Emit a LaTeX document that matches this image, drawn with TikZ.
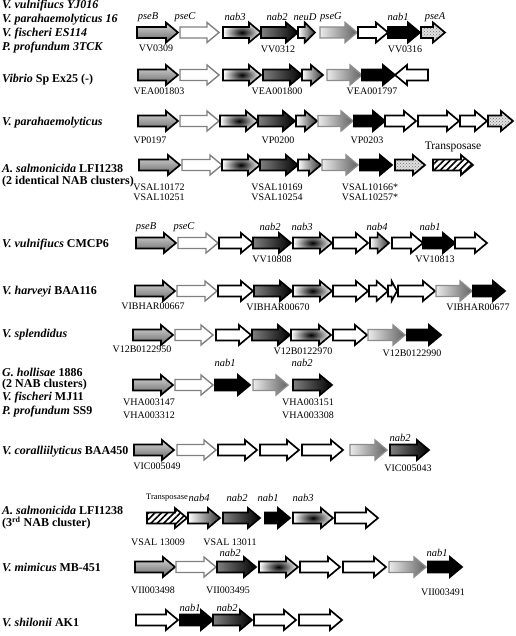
\documentclass[tikz,border=0pt]{standalone}
\usepackage{fontspec}
\setmainfont{Liberation Serif}
\usetikzlibrary{patterns,patterns.meta}
\tikzset{
 gbase/.style={line width=1.7pt, line join=miter},
 gB/.style={gbase, draw=black, top color=black!15, bottom color=black!60},
 gC/.style={gbase, line width=1.4pt, draw=black!50, fill=white},
 gW/.style={gbase, draw=black, fill=white},
 gK/.style={gbase, draw=black, fill=black},
 gNt/.style={gbase, draw=black, inner color=black, outer color=white},
 gNb/.style={gbase, draw=black, left color=black!50, right color=black},
 gD/.style={gbase, draw=black, left color=white, right color=black!80},
 gG/.style={gbase, line width=1.4pt, draw=black!45, left color=black!8, right color=black!62},
 gP/.style={gbase, draw=black, preaction={fill=black!12}, pattern=crosshatch dots, pattern color=black!55},
 gH/.style={gbase, draw=black, pattern={Lines[angle=45,distance=4.5pt,line width=1.6pt]}},
 gl/.style={font=\fontsize{10.5}{11}\selectfont\itshape, inner sep=0pt},
 lc/.style={font=\fontsize{10}{11}\selectfont, inner sep=0pt},
 sp/.style={font=\fontsize{12}{14}\selectfont\bfseries, anchor=west, inner sep=0pt},
}
\newcommand\gn[4]{%
 \pgfmathsetmacro\gnh{min(12,0.6*(#3-#2))}%
 \path[#1] (#2,#4-5.5) -- (#3-\gnh,#4-5.5) -- (#3-\gnh,#4-10) -- (#3,#4) -- (#3-\gnh,#4+10) -- (#3-\gnh,#4+5.5) -- (#2,#4+5.5) -- cycle;}
\newcommand\gnl[4]{%
 \pgfmathsetmacro\gnh{min(12,0.6*(#3-#2))}%
 \path[#1] (#3,#4-5.5) -- (#2+\gnh,#4-5.5) -- (#2+\gnh,#4-10) -- (#2,#4) -- (#2+\gnh,#4+10) -- (#2+\gnh,#4+5.5) -- (#3,#4+5.5) -- cycle;}
\begin{document}
\begin{tikzpicture}[x=1pt,y=-1pt]
\useasboundingbox (0,0) rectangle (515,636);
\fill[white] (0,0) rectangle (515,636);
% ---------- Row 1
\node[sp] (s1a) at (2,6) {\itshape V. vulnifiucs YJ016};
\node[sp] (s1b) at (2,20) {\itshape V. parahaemolyticus 16};
\node[sp] (s1c) at (2,34) {\itshape V. fischeri ES114};
\node[sp] (s1d) at (2,48) {\itshape P. profundum 3TCK};
\gn{gB}{137}{178}{32.5}
\gn{gC}{180}{219}{32.5}
\gn{gNt}{223}{261}{32.5}
\gn{gNb}{261}{298}{32.5}
\gn{gD}{298}{315}{32.5}
\gn{gG}{320}{357}{32.5}
\gn{gW}{358}{388}{32.5}
\gn{gK}{388}{420}{32.5}
\gn{gP}{421}{445}{32.5}
\node[gl] (g1a) at (148,17) {pseB};
\node[gl] (g1b) at (185,17) {pseC};
\node[gl] (g1c) at (235,17) {nab3};
\node[gl] (g1d) at (277,17) {nab2};
\node[gl] (g1e) at (305,17) {neuD};
\node[gl] (g1f) at (331,17) {pseG};
\node[gl] (g1g) at (398,17) {nab1};
\node[gl] (g1h) at (435,17) {pseA};
\node[lc] (l1a) at (156,48) {VV0309};
\node[lc] (l1b) at (278,49) {VV0312};
\node[lc] (l1c) at (405,49) {VV0316};
% ---------- Row 2
\node[sp] (s2) at (2,80) {\itshape Vibrio\upshape{} Sp Ex25 (-)};
\gn{gB}{138}{178}{75}
\gn{gC}{180}{219}{75}
\gn{gNt}{223}{261}{75}
\gn{gNb}{263}{302}{75}
\gn{gD}{302}{323}{75}
\gn{gG}{327}{362}{75}
\gn{gK}{362}{395}{75}
\gnl{gW}{395}{428}{75}
\node[lc] (l2a) at (159,91) {VEA001803};
\node[lc] (l2b) at (277,91) {VEA001800};
\node[lc] (l2c) at (372,91) {VEA001797};
% ---------- Row 3
\node[sp] (s3) at (2,123) {\itshape V. parahaemolyticus};
\gn{gB}{138}{178}{121}
\gn{gC}{180}{219}{121}
\gn{gNt}{220}{258}{121}
\gn{gNb}{258}{295}{121}
\gn{gD}{296}{317}{121}
\gn{gG}{318}{353}{121}
\gn{gK}{354}{385}{121}
\gn{gW}{385}{416}{121}
\gn{gW}{418}{459}{121}
\gn{gW}{460}{487}{121}
\gn{gP}{488}{513}{121}
\node[lc] (l3a) at (150,140) {VP0197};
\node[lc] (l3b) at (278,140) {VP0200};
\node[lc] (l3c) at (367,140) {VP0203};
% ---------- Row 4
\node[sp] (s4a) at (2,168) {\itshape A. salmonicida\upshape{} LFI1238};
\node[sp] (s4b) at (2,182) {(2 identical NAB clusters)};
\gn{gB}{139}{180}{165}
\gn{gC}{182}{222}{165}
\gn{gNt}{222}{260}{165}
\gn{gNb}{260}{298}{165}
\gn{gD}{298}{321}{165}
\gn{gG}{322}{358}{165}
\gn{gK}{360}{392}{165}
\gn{gP}{395}{425}{165}
\gn{gH}{433}{473}{165}
\node[lc, font=\fontsize{11.5}{12}\selectfont] (t4) at (453,147) {Transposase};
\node[lc] (l4a) at (159,187) {VSAL10172};
\node[lc] (l4b) at (159,197) {VSAL10251};
\node[lc] (l4c) at (277,187) {VSAL10169};
\node[lc] (l4d) at (277,197) {VSAL10254};
\node[lc] (l4e) at (370,187) {VSAL10166*};
\node[lc] (l4f) at (370,197) {VSAL10257*};
% ---------- Row 5
\node[sp] (s5) at (2,245) {\itshape V. vulnifiucs\upshape{} CMCP6};
\gn{gB}{136}{176}{243}
\gn{gC}{178}{218}{243}
\gn{gW}{219}{253}{243}
\gn{gNb}{253}{291}{243}
\gn{gNt}{293}{332}{243}
\gn{gW}{333}{368}{243}
\gn{gD}{370}{389}{243}
\gn{gW}{392}{423}{243}
\gn{gK}{423}{455}{243}
\gn{gW}{455}{487}{243}
\node[gl] (g5a) at (146,227) {pseB};
\node[gl] (g5b) at (184,227) {pseC};
\node[gl] (g5c) at (270,227) {nab2};
\node[gl] (g5d) at (302,227) {nab3};
\node[gl] (g5e) at (377,227) {nab4};
\node[gl] (g5f) at (430,227) {nab1};
\node[lc] (l5a) at (272,259) {VV10808};
\node[lc] (l5b) at (435,259) {VV10813};
% ---------- Row 6
\node[sp] (s6) at (2,292) {\itshape V. harveyi\upshape{} BAA116};
\gn{gB}{135}{175}{291}
\gn{gC}{177}{217}{291}
\gn{gW}{218}{253}{291}
\gn{gNb}{254}{292}{291}
\gn{gNt}{293}{332}{291}
\gn{gW}{333}{368}{291}
\gn{gW}{369}{388}{291}
\gn{gW}{388}{397}{291}
\gn{gW}{398}{435}{291}
\gn{gG}{436}{472}{291}
\gn{gK}{473}{505}{291}
\node[lc] (l6a) at (153,306) {VIBHAR00667};
\node[lc] (l6b) at (278,307) {VIBHAR00670};
\node[lc] (l6c) at (478,307) {VIBHAR00677};
% ---------- Row 7
\node[sp] (s7) at (2,335) {\itshape V. splendidus};
\gn{gB}{133}{173}{335}
\gn{gC}{175}{213}{335}
\gn{gW}{216}{251}{335}
\gn{gNb}{252}{290}{335}
\gn{gNt}{291}{331}{335}
\gn{gW}{333}{367}{335}
\gn{gG}{368}{405}{335}
\gn{gK}{407}{441}{335}
\node[lc] (l7a) at (142,349) {V12B0122950};
\node[lc] (l7b) at (303,351) {V12B0122970};
\node[lc] (l7c) at (412,353) {V12B0122990};
% ---------- Row 8
\node[sp] (s8a) at (2,372) {\itshape G. hollisae\upshape{} 1886};
\node[sp] (s8b) at (2,385) {(2 NAB clusters)};
\node[sp] (s8c) at (2,398) {\itshape V. fischeri\upshape{} MJ11};
\node[sp] (s8d) at (2,412) {\itshape P. profundum\upshape{} SS9};
\gn{gB}{133}{173}{385}
\gn{gC}{175}{213}{385}
\gn{gK}{215}{250}{385}
\gn{gG}{253}{288}{385}
\gn{gNb}{293}{332}{385}
\node[gl] (g8a) at (225,363) {nab1};
\node[gl] (g8b) at (302,363) {nab2};
\node[lc] (l8a) at (149,402) {VHA003147};
\node[lc] (l8b) at (149,415) {VHA003312};
\node[lc] (l8c) at (308,402) {VHA003151};
\node[lc] (l8d) at (308,415) {VHA003308};
% ---------- Row 9
\node[sp] (s9) at (2,452) {\itshape V. coralliilyticus\upshape{} BAA450};
\gn{gB}{134}{174}{450}
\gn{gC}{177}{216}{450}
\gn{gW}{218}{257}{450}
\gn{gW}{260}{299}{450}
\gn{gW}{302}{343}{450}
\gn{gG}{350}{387}{450}
\gn{gNb}{390}{429}{450}
\node[gl] (g9a) at (400,438) {nab2};
\node[lc] (l9a) at (157,466) {VIC005049};
\node[lc] (l9b) at (408,468) {VIC005043};
% ---------- Row 10
\node[sp] (s10a) at (2,510) {\itshape A. salmonicida\upshape{} LFI1238};
\node[sp] (s10b) at (2,523) {(3\textsuperscript{rd} NAB cluster)};
\gn{gH}{147}{187}{518}
\gn{gD}{188}{220}{518}
\gn{gNb}{223}{260}{518}
\gn{gK}{265}{290}{518}
\gn{gNt}{293}{333}{518}
\gn{gW}{335}{378}{518}
\node[lc, font=\fontsize{8.5}{10}\selectfont] (t10) at (167,498) {Transposase};
\node[gl] (g10a) at (199,498) {nab4};
\node[gl] (g10b) at (237,498) {nab2};
\node[gl] (g10c) at (268,498) {nab1};
\node[gl] (g10d) at (303,498) {nab3};
\node[lc] (l10a) at (158,542) {VSAL 13009};
\node[lc] (l10b) at (230,542) {VSAL 13011};
% ---------- Row 11
\node[sp] (s11) at (2,567) {\itshape V. mimicus\upshape{} MB-451};
\gn{gB}{135}{175}{567}
\gn{gC}{176}{216}{567}
\gn{gNb}{217}{256}{567}
\gn{gNt}{259}{298}{567}
\gn{gW}{300}{340}{567}
\gn{gW}{343}{386}{567}
\gn{gG}{389}{426}{567}
\gn{gK}{428}{462}{567}
\node[gl] (g11a) at (230,553) {nab2};
\node[gl] (g11b) at (437,553) {nab1};
\node[lc] (l11a) at (153,590) {VII003498};
\node[lc] (l11b) at (228,590) {VII003495};
\node[lc] (l11c) at (443,592) {VII003491};
% ---------- Row 12
\node[sp] (s12) at (2,622) {\itshape V. shilonii\upshape{} AK1};
\gn{gW}{136}{178}{620}
\gn{gK}{180}{213}{620}
\gn{gNb}{213}{252}{620}
\gn{gW}{254}{296}{620}
\gn{gW}{299}{342}{620}
\node[gl] (g12a) at (190,608) {nab1};
\node[gl] (g12b) at (227,608) {nab2};
\end{tikzpicture}
\end{document}
